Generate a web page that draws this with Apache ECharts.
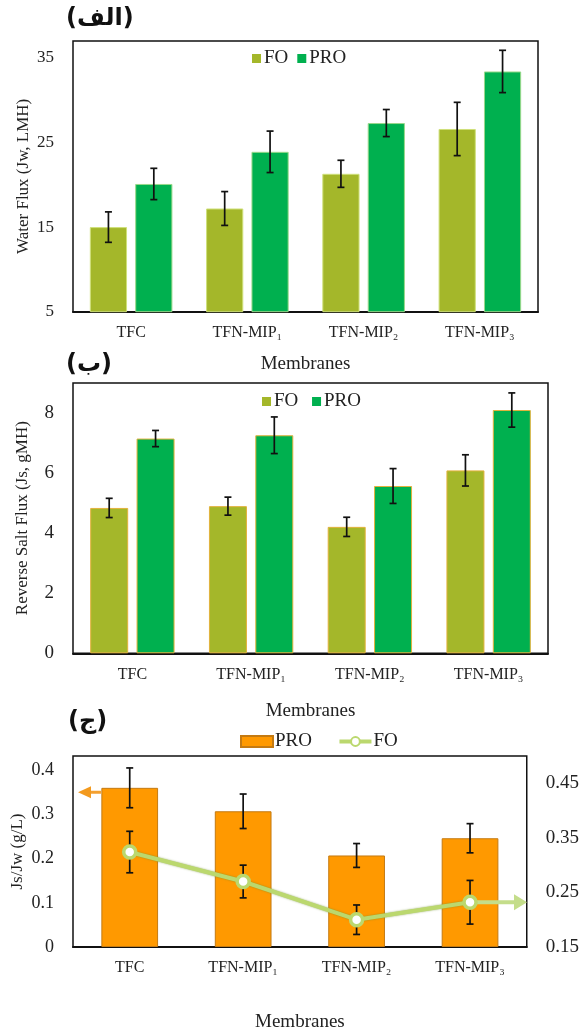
<!DOCTYPE html>
<html>
<head>
<meta charset="utf-8">
<script src="https://cdn.jsdelivr.net/npm/echarts@6/dist/echarts.min.js"></script>
<style>
  html, body { margin: 0; padding: 0; background: #fff; }
  #main { width: 582px; height: 1033px; }
</style>
</head>
<body>
<div id="main"></div>
<script>
// categories
var membranes = ['TFC', 'TFN-MIP₁', 'TFN-MIP₂', 'TFN-MIP₃'];

// (الف) water flux, LMH
var waterFO = [15.0, 17.2, 21.3, 26.6];
var waterFOErr = [1.8, 2.0, 1.6, 3.15];
var waterPRO = [20.1, 23.9, 27.3, 33.4];
var waterPROErr = [1.85, 2.45, 1.6, 2.5];

// (ب) reverse salt flux, gMH
var saltFO = [4.84, 4.9, 4.21, 6.09];
var saltFOErr = [0.32, 0.3, 0.32, 0.52];
var saltPRO = [7.15, 7.26, 5.57, 8.1];
var saltPROErr = [0.27, 0.61, 0.58, 0.57];

// (ج) Js/Jw, g/L
var ratioPRO = [0.36, 0.307, 0.207, 0.246];
var ratioPROErr = [0.045, 0.039, 0.027, 0.033];
var ratioFO = [0.324, 0.27, 0.2, 0.232];
var ratioFOErr = [0.038, 0.03, 0.027, 0.04];

var FONT = 'Liberation Serif';
var C_FO = '#a4b72a';
var C_PRO = '#00b04f';
var C_ORANGE = '#ff9900';
var C_LINE = '#bbd86e';

var BAR_W = 0.32;   // bar width / band
var BAR_GAP = 0.22; // gap / bar width

function errData(vals, errs) {
  return vals.map(function(v, i) { return [i, v - errs[i], v + errs[i]]; });
}

// error bar renderer; side = -1 left bar, 1 right bar, 0 centered
function errRender(side) {
  return function(params, api) {
    var x = api.value(0);
    var band = api.size([1, 0])[0];
    var bw = band * BAR_W;
    var off = side * bw * (1 + BAR_GAP) / 2;
    var top = api.coord([x, api.value(2)]);
    var bot = api.coord([x, api.value(1)]);
    var cx = top[0] + off;
    var cap = 3.5;
    var st = { stroke: '#111', lineWidth: 1.7 };
    return {
      type: 'group',
      children: [
        { type: 'line', shape: { x1: cx, y1: top[1], x2: cx, y2: bot[1] }, style: st },
        { type: 'line', shape: { x1: cx - cap, y1: top[1], x2: cx + cap, y2: top[1] }, style: st },
        { type: 'line', shape: { x1: cx - cap, y1: bot[1], x2: cx + cap, y2: bot[1] }, style: st }
      ]
    };
  };
}

function catAxis(gridIndex, nameGap) {
  return {
    type: 'category',
    gridIndex: gridIndex,
    data: membranes,
    name: 'Membranes',
    nameLocation: 'middle',
    nameGap: nameGap,
    nameMoveOverlap: false,
    nameTextStyle: { fontFamily: FONT, fontSize: 19, color: '#222' },
    axisLine: { show: true, lineStyle: { color: '#111', width: 2 } },
    axisTick: { show: false },
    axisLabel: { fontFamily: FONT, fontSize: 16, color: '#222', margin: 13 },
    splitLine: { show: false }
  };
}

function valAxis(gridIndex, min, max, interval, name, nameGap, nameSize, labelSize, fmt) {
  return {
    type: 'value',
    gridIndex: gridIndex,
    min: min,
    max: max,
    interval: interval,
    name: name,
    nameLocation: 'middle',
    nameGap: nameGap,
    nameMoveOverlap: false,
    nameTextStyle: { fontFamily: FONT, fontSize: nameSize, color: '#222' },
    axisLine: { show: false },
    axisTick: { show: false },
    splitLine: { show: false },
    axisLabel: {
      fontFamily: FONT, fontSize: labelSize, color: '#222', margin: 19,
      showMaxLabel: false,
      formatter: fmt
    }
  };
}

var chart = echarts.init(document.getElementById('main'));

var gridBox = { show: true, borderColor: '#111', borderWidth: 1.5, backgroundColor: 'transparent' };
var flatIcon = { borderWidth: 0 };

var option = {
  backgroundColor: '#fff',
  animation: false,
  title: [
    { text: '(الف)', left: 66, top: 7 },
    { text: '(ب)', left: 66, top: 353 },
    { text: '(ج)', left: 68, top: 710 }
  ].map(function(t) {
    t.textStyle = { fontFamily: 'DejaVu Sans', fontWeight: 'bold', fontSize: 24, color: '#111' };
    t.padding = 0;
    return t;
  }),
  legend: [
    {
      left: 252, top: 49, padding: 0, itemWidth: 9, itemHeight: 9, itemGap: 9,
      data: [{ name: 'FO', icon: 'rect', itemStyle: flatIcon }, { name: 'PRO', icon: 'rect', itemStyle: flatIcon }],
      textStyle: { fontFamily: FONT, fontSize: 19, color: '#222', padding: [0, 0, 0, -2] },
      selectedMode: false
    },
    {
      left: 262, top: 392, padding: 0, itemWidth: 9, itemHeight: 9, itemGap: 9,
      data: [{ name: 'FO ', icon: 'rect', itemStyle: flatIcon }, { name: 'PRO ', icon: 'rect', itemStyle: flatIcon }],
      textStyle: { fontFamily: FONT, fontSize: 19, color: '#222', padding: [0, 0, 0, -2] },
      selectedMode: false
    },
    {
      left: 240, top: 732, padding: 0, itemWidth: 32, itemHeight: 11, itemGap: 16,
      data: [
        { name: 'PRO  ', icon: 'rect' },
        { name: 'FO  ', lineStyle: { width: 4 } }
      ],
      textStyle: { fontFamily: FONT, fontSize: 19, color: '#222', padding: [0, 0, 0, -3] },
      selectedMode: false
    }
  ],
  grid: [
    Object.assign({ left: 73, top: 41, right: 44, bottom: 1033 - 311.7 }, gridBox),
    Object.assign({ left: 73, top: 383, right: 34, bottom: 1033 - 653.3 }, gridBox),
    Object.assign({ left: 73, top: 756, right: 49, bottom: 1033 - 960 }, gridBox)
  ],
  xAxis: [catAxis(0, 43), catAxis(1, 48), catAxis(2, 66)],
  yAxis: [
    valAxis(0, 5, 37, 10, 'Water Flux (Jw, LMH)', 41, 17, 17),
    valAxis(1, 0, 9, 2, 'Reverse Salt Flux (Js, gMH)', 42, 17, 19),
    valAxis(2, 0, 0.432, 0.1, 'Js/Jw (g/L)', 47, 17, 18, function(v) { return +v.toFixed(2) + ''; }),
    Object.assign(valAxis(2, 0.15, 0.5, 0.1, '', 0, 14, 19, function(v) { return v.toFixed(2); }), {
      position: 'right'
    })
  ],
  series: [
    // (الف)
    {
      name: 'FO', type: 'bar', xAxisIndex: 0, yAxisIndex: 0, data: waterFO,
      barWidth: (BAR_W * 100) + '%', barGap: (BAR_GAP * 100) + '%',
      itemStyle: { color: C_FO, borderColor: '#cfe07a', borderWidth: 1 }
    },
    {
      name: 'PRO', type: 'bar', xAxisIndex: 0, yAxisIndex: 0, data: waterPRO,
      barWidth: (BAR_W * 100) + '%', barGap: (BAR_GAP * 100) + '%',
      itemStyle: { color: C_PRO, borderColor: '#9ad88a', borderWidth: 1 }
    },
    {
      type: 'custom', xAxisIndex: 0, yAxisIndex: 0, renderItem: errRender(-1),
      data: errData(waterFO, waterFOErr), encode: { x: 0, y: [1, 2] }, z: 5, silent: true
    },
    {
      type: 'custom', xAxisIndex: 0, yAxisIndex: 0, renderItem: errRender(1),
      data: errData(waterPRO, waterPROErr), encode: { x: 0, y: [1, 2] }, z: 5, silent: true
    },
    // (ب)
    {
      name: 'FO ', type: 'bar', xAxisIndex: 1, yAxisIndex: 1, data: saltFO,
      barWidth: (BAR_W * 100) + '%', barGap: (BAR_GAP * 100) + '%',
      itemStyle: { color: C_FO, borderColor: '#e2b23c', borderWidth: 1 }
    },
    {
      name: 'PRO ', type: 'bar', xAxisIndex: 1, yAxisIndex: 1, data: saltPRO,
      barWidth: (BAR_W * 100) + '%', barGap: (BAR_GAP * 100) + '%',
      itemStyle: { color: C_PRO, borderColor: '#e2b23c', borderWidth: 1 }
    },
    {
      type: 'custom', xAxisIndex: 1, yAxisIndex: 1, renderItem: errRender(-1),
      data: errData(saltFO, saltFOErr), encode: { x: 0, y: [1, 2] }, z: 5, silent: true
    },
    {
      type: 'custom', xAxisIndex: 1, yAxisIndex: 1, renderItem: errRender(1),
      data: errData(saltPRO, saltPROErr), encode: { x: 0, y: [1, 2] }, z: 5, silent: true
    },
    // (ج)
    {
      name: 'PRO  ', type: 'bar', xAxisIndex: 2, yAxisIndex: 2, data: ratioPRO,
      barWidth: '50%',
      itemStyle: { color: C_ORANGE, borderColor: '#c47a12', borderWidth: 1 }
    },
    {
      type: 'custom', xAxisIndex: 2, yAxisIndex: 2, renderItem: errRender(0),
      data: errData(ratioPRO, ratioPROErr), encode: { x: 0, y: [1, 2] }, z: 5, silent: true
    },
    {
      type: 'custom', xAxisIndex: 2, yAxisIndex: 3, renderItem: errRender(0),
      data: errData(ratioFO, ratioFOErr), encode: { x: 0, y: [1, 2] }, z: 5, silent: true
    },
    {
      name: 'FO  ', type: 'line', xAxisIndex: 2, yAxisIndex: 3, data: ratioFO,
      symbol: 'circle', symbolSize: 12, z: 8,
      lineStyle: { color: C_LINE, width: 4, shadowColor: 'rgba(110,140,40,0.7)', shadowBlur: 2 },
      itemStyle: { color: '#fff', borderColor: C_LINE, borderWidth: 3.5 }
    }
  ]
};

chart.setOption(option);

// axis arrows in (ج): PRO -> left axis, FO -> right axis
var barLeft = chart.convertToPixel({ xAxisIndex: 2, yAxisIndex: 2 }, [0, ratioPRO[0] - 0.01]);
var band3 = (582 - 49 - 73) / membranes.length;
var ax = barLeft[0] - band3 * 0.25;
var ay = barLeft[1];
var foEnd = chart.convertToPixel({ xAxisIndex: 2, yAxisIndex: 3 }, [membranes.length - 1, ratioFO[ratioFO.length - 1]]);
var gridRight = 582 - 49;

chart.setOption({
  graphic: [
    {
      type: 'line', z: 20,
      shape: { x1: ax, y1: ay, x2: 88, y2: ay },
      style: { stroke: '#f4a030', lineWidth: 3 }
    },
    {
      type: 'polygon', z: 20,
      shape: { points: [[78, ay], [91, ay - 6], [91, ay + 6]] },
      style: { fill: '#f39a1e' }
    },
    {
      type: 'line', z: 6,
      shape: { x1: foEnd[0], y1: foEnd[1], x2: gridRight - 17, y2: foEnd[1] },
      style: { stroke: '#c4dd8a', lineWidth: 4 }
    },
    {
      type: 'polygon', z: 6,
      shape: { points: [[gridRight - 6, foEnd[1]], [gridRight - 19, foEnd[1] - 8], [gridRight - 19, foEnd[1] + 8]] },
      style: { fill: '#c4dd8a' }
    }
  ]
});
</script>
</body>
</html>
